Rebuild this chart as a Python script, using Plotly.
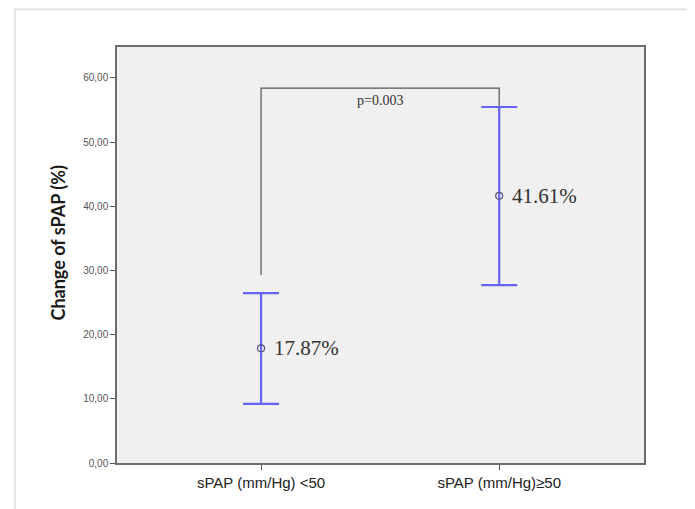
import plotly.graph_objects as go

categories = ["sPAP (mm/Hg) <50", "sPAP (mm/Hg)\u226550"]
means = [17.87, 41.61]
upper = [26.45, 55.45]
lower = [9.2, 27.7]
mean_labels = ["17.87%", "41.61%"]
y_ticks = [0, 10, 20, 30, 40, 50, 60]
y_tick_labels = ["0,00", "10,00", "20,00", "30,00", "40,00", "50,00", "60,00"]
bracket_ends = [29.3, 55.45]
bracket_top = 58.4
p_text = "p=0.003"
p_y = 56.4

xi = [0, 1]
fig = go.Figure()

# bracket
fig.add_trace(go.Scatter(
    x=[xi[0], xi[0], xi[1], xi[1]],
    y=[bracket_ends[0], bracket_top, bracket_top, bracket_ends[1]],
    mode="lines", line=dict(color="#555555", width=1.2),
    hoverinfo="skip", showlegend=False))

fig.add_trace(go.Scatter(
    x=xi, y=means, mode="markers",
    marker=dict(symbol="circle-open", size=7, color="#555577", line=dict(width=1.2)),
    error_y=dict(type="data", symmetric=False,
                 array=[u - m for u, m in zip(upper, means)],
                 arrayminus=[m - l for m, l in zip(means, lower)],
                 color="#6464f0", thickness=2.2, width=18),
    showlegend=False))

for x, m, lab in zip(xi, means, mean_labels):
    fig.add_annotation(x=x, y=m, text=lab, showarrow=False, xanchor="left", xshift=11,
                       font=dict(family="Liberation Serif", size=21, color="#333333"))

fig.add_annotation(x=0.5, y=p_y, text=p_text, showarrow=False,
                   font=dict(family="Liberation Serif", size=14, color="#333333"))

fig.add_annotation(xref="paper", yref="paper", x=-0.112, y=0.53, text="<b>Change of sPAP (%)</b>",
                   textangle=-90, showarrow=False, xanchor="center", yanchor="middle",
                   font=dict(family="Lato", size=18, color="#1a1a1a"))

# outer frame
fig.add_shape(type="rect", xref="paper", yref="paper", x0=-0.1935, x1=1.088, y0=-0.3, y1=1.091,
              line=dict(color="#e4e4e4", width=2), fillcolor="rgba(0,0,0,0)", layer="below")

fig.update_xaxes(
    type="linear", range=[-0.605, 1.608], tickvals=xi, ticktext=categories,
    ticks="outside", ticklen=5, tickcolor="#555555",
    showgrid=False, zeroline=False, showline=True, linecolor="#6c6c6c", linewidth=1.5, mirror=True,
    tickfont=dict(family="Liberation Sans", size=15, color="#222222"))
fig.update_yaxes(
    range=[0, 64.8], tickvals=y_ticks, ticktext=y_tick_labels,
    ticks="outside", ticklen=5, tickcolor="#555555",
    showgrid=False, zeroline=False, showline=True, linecolor="#6c6c6c", linewidth=1.5, mirror=True,
    tickfont=dict(family="Liberation Sans", size=10, color="#555555"))

fig.update_layout(
    width=695, height=509,
    margin=dict(l=109, r=59, t=39, b=54),
    plot_bgcolor="#f0f0f0", paper_bgcolor="white",
    showlegend=False)

fig.write_html("out.html")
